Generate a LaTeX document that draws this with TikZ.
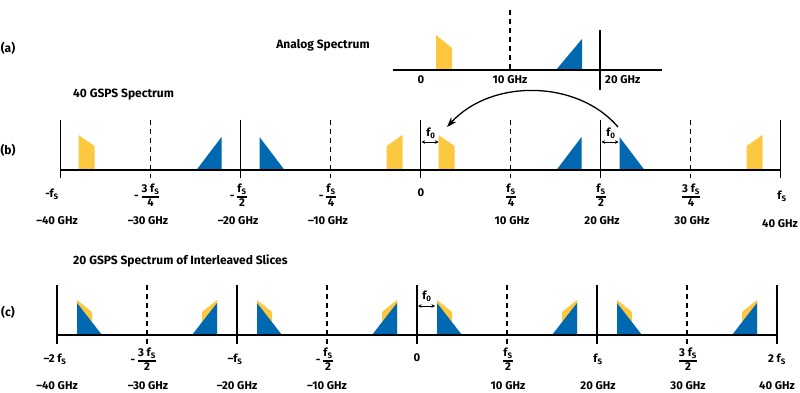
\documentclass[tikz,border=0pt]{standalone}
\usepackage{fontspec}
\setmainfont{Fira Sans}
\usetikzlibrary{arrows.meta}
\definecolor{ylw}{RGB}{252,200,64}
\definecolor{blu}{RGB}{0,103,177}
\newcommand\fsub{f\textsubscript{S}}
\newcommand\fzero{f\textsubscript{0}}
\newcommand\myfr[2]{$\vcenter{\halign{\hfil##\hfil\cr\strut #1\cr\noalign{\kern0.3pt\hrule height 1.2pt\kern0.3pt}\strut #2\cr}}$}
\newcommand\negfr[2]{\llap{-\kern3pt}\myfr{#1}{#2}}
\begin{document}
\begin{tikzpicture}[x=1pt,y=-1pt,
  axisline/.style={line width=1.3pt},
  solidline/.style={line width=1.3pt},
  dashline/.style={line width=1.3pt, dash pattern=on 5pt off 4pt},
  yel/.style={fill=ylw, draw=none},
  blu/.style={fill=blu, draw=none},
  lbl/.style={font=\bfseries\fontsize{11.3}{12.5}\selectfont, inner sep=0pt},
  ttl/.style={font=\bfseries\fontsize{12}{14}\selectfont, inner sep=0pt},
  f0arrow/.style={{Stealth[length=3.5pt,width=3.5pt]}-{Stealth[length=3.5pt,width=3.5pt]}, line width=0.8pt},
  bigarrow/.style={-{Stealth[length=10pt,width=7pt]}, line width=1.3pt}]
\useasboundingbox (0,0) rectangle (800,393);

% ---------------- (a) ----------------
\node[ttl] (pa) at (8,48) {(a)};
\node[ttl] (ta) at (323,45) {Analog Spectrum};
\fill[yel] (436,70) -- (436,35) -- (452,48) -- (452,70) -- cycle;
\fill[blu] (556,70) -- (582,39) -- (582,70) -- cycle;
\draw[dashline] (510,10) -- (510,70);
\draw[solidline] (600,30) -- (600,90);
\draw[axisline] (393,70) -- (662,70);
\node[lbl] (a0) at (421,80) {0};
\node[lbl] (a10) at (510,80) {10 GHz};
\node[lbl, anchor=west] (a20) at (605,80) {20 GHz};

% ---------------- (b) ----------------
\node[ttl] (pb) at (8,150) {(b)};
\node[ttl, anchor=west] (tb) at (73,95) {40 GSPS Spectrum};
% yellow bands
\foreach \x in {60.5,420.5}
  \fill[yel] (\x+18,170) -- (\x+18,135) -- (\x+34,146) -- (\x+34,170) -- cycle;
\foreach \x in {420.5,780.5}
  \fill[yel] (\x-18,170) -- (\x-18,135) -- (\x-34,146) -- (\x-34,170) -- cycle;
% blue bands
\foreach \x in {240.5,600.5}{
  \fill[blu] (\x+19,170) -- (\x+19,137) -- (\x+44,170) -- cycle;
  \fill[blu] (\x-19,170) -- (\x-19,137) -- (\x-44,170) -- cycle;
}
\foreach \k in {0,2,4,6,8}
  \draw[solidline] (60.5+90*\k,120) -- (60.5+90*\k,178);
\foreach \k in {1,3,5,7}
  \draw[dashline] (60.5+90*\k,120) -- (60.5+90*\k,178);
\draw[axisline] (60.5,170) -- (780.5,170);
% f0 markers
\coordinate (b0a) at (421.5,142);
\coordinate (b0b) at (438.5,142);
\draw[f0arrow] (b0a) -- (b0b);
\node[lbl] (bf0) at (431,133) {\fzero};
\coordinate (b2a) at (601.5,142);
\coordinate (b2b) at (618.5,142);
\draw[f0arrow] (b2a) -- (b2b);
\node[lbl] (bf2) at (611,133) {\fzero};
% big arrow
\coordinate (arcS) at (618,127);
\coordinate (arcE) at (447,127);
\draw[bigarrow] (arcS) .. controls (578,80) and (492,78) .. (arcE);
% labels
\node[lbl] (bl0) at (52,194) {-\fsub};
\node[lbl] (bl1) at (150.5,197) {\negfr{3 \fsub}{4}};
\node[lbl] (bl2) at (242,197) {\negfr{\fsub}{2}};
\node[lbl] (bl3) at (331,197) {\negfr{\fsub}{4}};
\node[lbl] (bl4) at (421,193) {0};
\node[lbl] (bl5) at (511,197) {\myfr{\fsub}{4}};
\node[lbl] (bl6) at (601,197) {\myfr{\fsub}{2}};
\node[lbl] (bl7) at (691,197) {\myfr{3 \fsub}{4}};
\node[lbl] (bl8) at (782,196) {\fsub};
\node[lbl] (bg0) at (57,221) {–40 GHz};
\node[lbl] (bg1) at (148,221) {–30 GHz};
\node[lbl] (bg2) at (238,221) {–20 GHz};
\node[lbl] (bg3) at (328,221) {–10 GHz};
\node[lbl] (bg5) at (512,221) {10 GHz};
\node[lbl] (bg6) at (602,221) {20 GHz};
\node[lbl] (bg7) at (692,221) {30 GHz};
\node[lbl] (bg8) at (780,224) {40 GHz};

% ---------------- (c) ----------------
\node[ttl] (pc) at (8,312) {(c)};
\node[ttl, anchor=west] (tc) at (73,261) {20 GSPS Spectrum of Interleaved Slices};
\foreach \x in {57,237,417,597}{
  \fill[yel] (\x+20,335) -- (\x+20,300) -- (\x+35,312) -- (\x+35,335) -- cycle;
  \fill[blu] (\x+20,335) -- (\x+20,303) -- (\x+45,335) -- cycle;
}
\foreach \x in {237,417,597,777}{
  \fill[yel] (\x-20,335) -- (\x-20,300) -- (\x-35,312) -- (\x-35,335) -- cycle;
  \fill[blu] (\x-20,335) -- (\x-20,303) -- (\x-45,335) -- cycle;
}
\foreach \k in {0,2,4,6,8}
  \draw[solidline] (57+90*\k,285) -- (57+90*\k,344);
\foreach \k in {1,3,5,7}
  \draw[dashline] (57+90*\k,285) -- (57+90*\k,344);
\draw[axisline] (57,335) -- (777,335);
\coordinate (c0a) at (418,306);
\coordinate (c0b) at (435,306);
\draw[f0arrow] (c0a) -- (c0b);
\node[lbl] (cf0) at (427,296) {\fzero};
\node[lbl] (cl0) at (55,359) {–2 \fsub};
\node[lbl] (cl1) at (147,361) {\negfr{3 \fsub}{2}};
\node[lbl] (cl2) at (235,359) {–\fsub};
\node[lbl] (cl3) at (328,361) {\negfr{\fsub}{2}};
\node[lbl] (cl4) at (417,358) {0};
\node[lbl] (cl5) at (508,361) {\myfr{\fsub}{2}};
\node[lbl] (cl6) at (598,359) {\fsub};
\node[lbl] (cl7) at (688,361) {\myfr{3 \fsub}{2}};
\node[lbl] (cl8) at (777,359) {2 \fsub};
\node[lbl] (cg0) at (57,386) {–40 GHz};
\node[lbl] (cg1) at (148,386) {–30 GHz};
\node[lbl] (cg2) at (237,386) {–20 GHz};
\node[lbl] (cg3) at (327,386) {–10 GHz};
\node[lbl] (cg5) at (508,386) {10 GHz};
\node[lbl] (cg6) at (598,386) {20 GHz};
\node[lbl] (cg7) at (688,386) {30 GHz};
\node[lbl] (cg8) at (777,386) {40 GHz};
\end{tikzpicture}
\end{document}
